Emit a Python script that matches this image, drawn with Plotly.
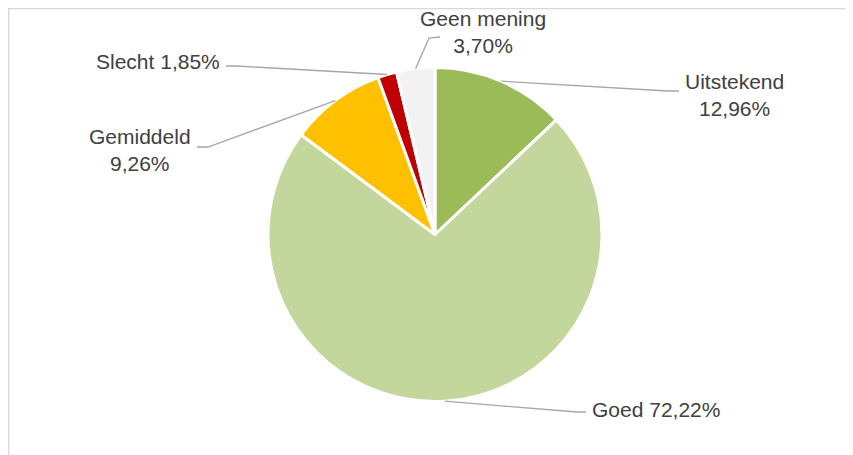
import math
import plotly.graph_objects as go

labels = ["Uitstekend", "Goed", "Gemiddeld", "Slecht", "Geen mening"]
values = [12.96, 72.22, 9.26, 1.85, 3.70]
colors = ["#9BBB59", "#C3D69B", "#FFC000", "#C00000", "#F2F2F2"]
separators = ["<br>", " ", "<br>", " ", "<br>"]

# label placement in window pixels: text position, anchor, leader elbow and end
label_pos = [
    dict(tx=734, ty=95, anchor="center", elbow=(668, 91), end=(679, 91)),
    dict(tx=590, ty=409, anchor="left", elbow=(577, 412), end=(586, 412)),
    dict(tx=140, ty=150, anchor="center", elbow=(208, 147), end=(197, 147)),
    dict(tx=222, ty=61, anchor="right", elbow=(236, 66), end=(226, 66)),
    dict(tx=483, ty=32, anchor="center", elbow=(429, 38), end=(440, 37)),
]

# page body has an 8px margin, so the figure starts at (8, 8) in the window
OFF = 8
W, H = 845, 447
cx, cy, r = 435, 234.5, 167

def px(x, y):
    return (x - OFF) / W, 1 - (y - OFF) / H

x0, y1 = px(cx - r, cy - r)
x1, y0 = px(cx + r, cy + r)
fig = go.Figure(go.Pie(
    labels=labels, values=values, sort=False, direction="clockwise",
    marker=dict(colors=colors, line=dict(color="white", width=3)),
    textinfo="none", hoverinfo="skip",
    domain=dict(x=[x0, x1], y=[y0, y1]),
))

total = sum(values)
cum = 0
shapes = []
annotations = []
for lab, v, sep, lp in zip(labels, values, separators, label_pos):
    theta = 2 * math.pi * (cum + v / 2) / total
    cum += v
    sx, sy = cx + r * math.sin(theta), cy - r * math.cos(theta)
    pts = [px(sx, sy), px(*lp["elbow"]), px(*lp["end"])]
    path = "M {} {} L {} {} L {} {}".format(*[c for p in pts for c in p])
    shapes.append(dict(type="path", xref="paper", yref="paper", path=path,
                       line=dict(color="#A6A6A6", width=1.3)))
    tx, ty = px(lp["tx"], lp["ty"])
    annotations.append(dict(
        x=tx, y=ty, xref="paper", yref="paper", showarrow=False,
        text=lab + sep + "{:.2f}%".format(v).replace(".", ","),
        xanchor=lp["anchor"], yanchor="middle", align="center",
        font=dict(family="Liberation Sans, Arial", size=21, color="#404040"),
    ))

# chart frame
shapes.append(dict(type="rect", xref="paper", yref="paper",
                   x0=0.6 / W, x1=1.05, y0=-0.05, y1=1 - 0.6 / H,
                   line=dict(color="#D9D9D9", width=1.5), layer="below"))

fig.update_layout(
    width=W, height=H, margin=dict(l=0, r=0, t=0, b=0),
    paper_bgcolor="white", plot_bgcolor="white", showlegend=False,
    shapes=shapes, annotations=annotations,
)

fig.write_html("out.html")
